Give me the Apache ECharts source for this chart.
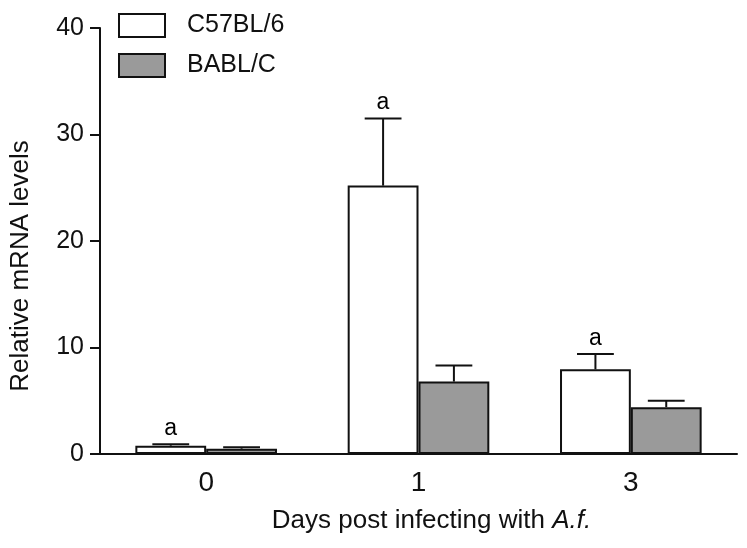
<!DOCTYPE html>
<html><head><meta charset="utf-8">
<script src="https://cdn.jsdelivr.net/npm/echarts@6/dist/echarts.min.js"></script>
<style>html,body{margin:0;padding:0;background:#fff}#c{width:747px;height:548px}</style>
</head><body><div id="c"></div>
<script>
const categories = ['0', '1', '3'];
const c57Mean = [0.78, 25.2, 7.95];
const c57Sd = [0.13, 6.3, 1.45];
const bablMean = [0.5, 6.8, 4.4];
const bablSd = [0.13, 1.5, 0.6];
const c57Letters = ['a', 'a', 'a'];
const yTicks = [0, 10, 20, 30, 40];

const FONT = '"Liberation Sans", Arial, sans-serif';
const chart = echarts.init(document.getElementById('c'));

function errData(mean, sd) {
  return mean.map((m, i) => [i, m, m + sd[i]]);
}
function makeErr(side) {
  return function (params, api) {
    const i = api.value(0);
    const band = api.size([1, 0])[0];
    const barW = band * (1 - 0.333) / 2;
    const c0 = api.coord([i, api.value(1)]);
    const c1 = api.coord([i, api.value(2)]);
    const x = c0[0] + side * barW / 2;
    const half = barW * 0.26;
    return { type: 'group', children: [
      { type: 'line', shape: { x1: x, y1: c0[1], x2: x, y2: c1[1] }, style: { stroke: '#111', lineWidth: 2 } },
      { type: 'line', shape: { x1: x - half, y1: c1[1], x2: x + half, y2: c1[1] }, style: { stroke: '#111', lineWidth: 2 } }
    ] };
  };
}
const letterData = c57Mean.map((m, i) => ({ value: [i, m + c57Sd[i]], letter: c57Letters[i] }));

chart.setOption({
  backgroundColor: '#fff',
  animation: false,
  grid: { left: 98, right: 10, top: 28, bottom: 94 },
  legend: {
    orient: 'vertical', left: 113, top: 8, itemWidth: 46, itemHeight: 23, itemGap: 15,
    icon: 'rect',
    data: ['C57BL/6', 'BABL/C'],
    textStyle: { fontSize: 25, fontFamily: FONT, color: '#111', padding: [3, 0, 0, 17] }
  },
  xAxis: {
    type: 'category', data: categories,
    axisLine: { lineStyle: { color: '#111', width: 2 } },
    axisTick: { show: false },
    axisLabel: { fontSize: 28, fontFamily: FONT, color: '#111', margin: 15 },
    name: '{n|Days post infecting with }{i|A.f.}',
    nameLocation: 'middle', nameGap: 54,
    nameTextStyle: { padding: [0, 0, 0, 26], rich: { n: { fontSize: 26, fontFamily: FONT, color: '#111' }, i: { fontSize: 26, fontFamily: FONT, fontStyle: 'italic', color: '#111' } } }
  },
  yAxis: {
    type: 'value', min: 0, max: 40, interval: 10,
    splitLine: { show: false },
    axisLine: { show: true, lineStyle: { color: '#111', width: 2 } },
    axisTick: { show: true, length: 10, lineStyle: { color: '#111', width: 2 } },
    axisLabel: { fontSize: 25, fontFamily: FONT, color: '#111', margin: 16, formatter: v => yTicks.includes(v) ? String(v) : '' },
    name: 'Relative mRNA levels', nameLocation: 'middle', nameGap: 66,
    nameTextStyle: { fontSize: 26, fontFamily: FONT, color: '#111', padding: [0, 50, 0, 0] }
  },
  series: [
    { name: 'C57BL/6', type: 'bar', data: c57Mean, barGap: '0%', barCategoryGap: '33.3%',
      itemStyle: { color: '#ffffff', borderColor: '#111', borderWidth: 2 } },
    { name: 'BABL/C', type: 'bar', data: bablMean,
      itemStyle: { color: '#9a9a9a', borderColor: '#111', borderWidth: 2 } },
    { type: 'custom', data: errData(c57Mean, c57Sd), renderItem: makeErr(-1), encode: { x: 0, y: 2 }, z: 5, silent: true },
    { type: 'custom', data: errData(bablMean, bablSd), renderItem: makeErr(1), encode: { x: 0, y: 2 }, z: 5, silent: true },
    { type: 'scatter', data: letterData, symbolSize: 0, silent: true, z: 6,
      itemStyle: { color: '#000', opacity: 1 },
      label: { show: true, position: 'top', distance: 4, offset: [-35.5, 0], opacity: 1,
        formatter: p => p.data.letter, fontSize: 23, fontFamily: FONT, color: '#000' } }
  ]
});
</script></body></html>
